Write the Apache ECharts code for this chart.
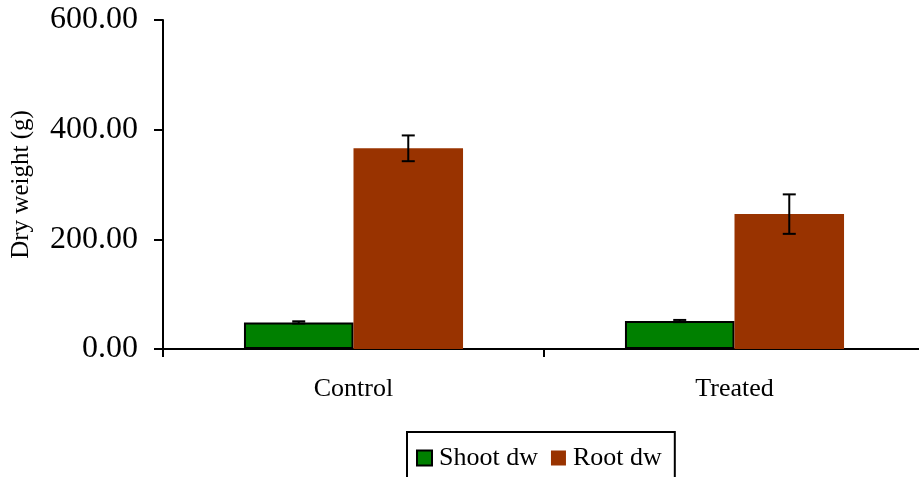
<!DOCTYPE html>
<html>
<head>
<meta charset="utf-8">
<script src="https://cdn.jsdelivr.net/npm/echarts@6/dist/echarts.min.js"></script>
<style>
  html, body { margin: 0; padding: 0; background: #fff; }
  #chart { width: 919px; height: 477px; }
</style>
</head>
<body>
<div id="chart"></div>
<script>
// Dry weight per treatment group
const categories = ['Control', 'Treated'];
const shootDw = [48.5, 51];
const rootDw = [366, 246];
const shootErr = [2, 2];
const rootErr = [23.5, 36];
const yTicks = [0, 200, 400, 600];

const FONT = '"Liberation Serif", "Times New Roman", serif';
const CAT_GAP = 0.425;

function errorSeries(values, errs, side) {
  return {
    type: 'custom',
    z: 10,
    silent: true,
    data: values.map((v, i) => [i, v, errs[i]]),
    renderItem: function (params, api) {
      const idx = api.value(0);
      const mean = api.value(1);
      const e = api.value(2);
      const band = api.size([1, 0])[0];
      const bw = band * (1 - CAT_GAP) / 2;
      const c = api.coord([idx, mean]);
      const x = c[0] + side * bw / 2;
      const top = api.coord([idx, mean + e])[1];
      const bot = api.coord([idx, mean - e])[1];
      const half = 6.5;
      const style = { stroke: '#000', lineWidth: 2 };
      return {
        type: 'group',
        children: [
          { type: 'line', shape: { x1: x, y1: top, x2: x, y2: bot }, style },
          { type: 'line', shape: { x1: x - half, y1: top, x2: x + half, y2: top }, style },
          { type: 'line', shape: { x1: x - half, y1: bot, x2: x + half, y2: bot }, style }
        ]
      };
    }
  };
}

const chart = echarts.init(document.getElementById('chart'));
chart.setOption({
  animation: false,
  backgroundColor: '#fff',
  grid: {
    left: 163, right: -6, top: 20, bottom: 128,
    containLabel: false, outerBoundsMode: 'none'
  },
  legend: {
    top: 432,
    left: 407,
    padding: [13, 13, 40, 9],
    itemGap: 13,
    itemWidth: 15,
    itemHeight: 15,
    borderColor: '#000',
    borderWidth: 2,
    textStyle: { fontFamily: FONT, fontSize: 26, color: '#000', padding: [0, 0, 0, 2] },
    data: [
      { name: 'Shoot dw', icon: 'rect', itemStyle: { color: '#008000', borderColor: '#000', borderWidth: 2 } },
      { name: 'Root dw', icon: 'rect', itemStyle: { color: '#993300', borderWidth: 0 } }
    ]
  },
  xAxis: {
    type: 'category',
    data: categories,
    axisLine: { lineStyle: { color: '#000', width: 2 } },
    axisTick: { show: true, length: 8, lineStyle: { color: '#000', width: 2 } },
    axisLabel: { fontFamily: FONT, fontSize: 26, color: '#000', margin: 27 },
    splitLine: { show: false }
  },
  yAxis: {
    type: 'value',
    min: yTicks[0],
    max: yTicks[yTicks.length - 1],
    interval: 200,
    name: 'Dry weight (g)',
    nameLocation: 'middle',
    nameGap: 129,
    nameRotate: 90,
    nameTextStyle: { fontFamily: FONT, fontSize: 25, color: '#000' },
    axisLine: { show: true, lineStyle: { color: '#000', width: 2 } },
    axisTick: { show: true, length: 9, lineStyle: { color: '#000', width: 2 } },
    axisLabel: {
      fontFamily: FONT, fontSize: 32, color: '#000', margin: 25,
      formatter: v => v.toFixed(2)
    },
    splitLine: { show: false }
  },
  series: [
    {
      name: 'Shoot dw',
      type: 'bar',
      data: shootDw,
      barGap: '0%',
      barCategoryGap: (CAT_GAP * 100) + '%',
      itemStyle: { color: '#008000', borderColor: '#000', borderWidth: 2 }
    },
    {
      name: 'Root dw',
      type: 'bar',
      data: rootDw,
      barGap: '0%',
      barCategoryGap: (CAT_GAP * 100) + '%',
      itemStyle: { color: '#993300' }
    },
    errorSeries(shootDw, shootErr, -1),
    errorSeries(rootDw, rootErr, 1)
  ]
});
</script>
</body>
</html>
